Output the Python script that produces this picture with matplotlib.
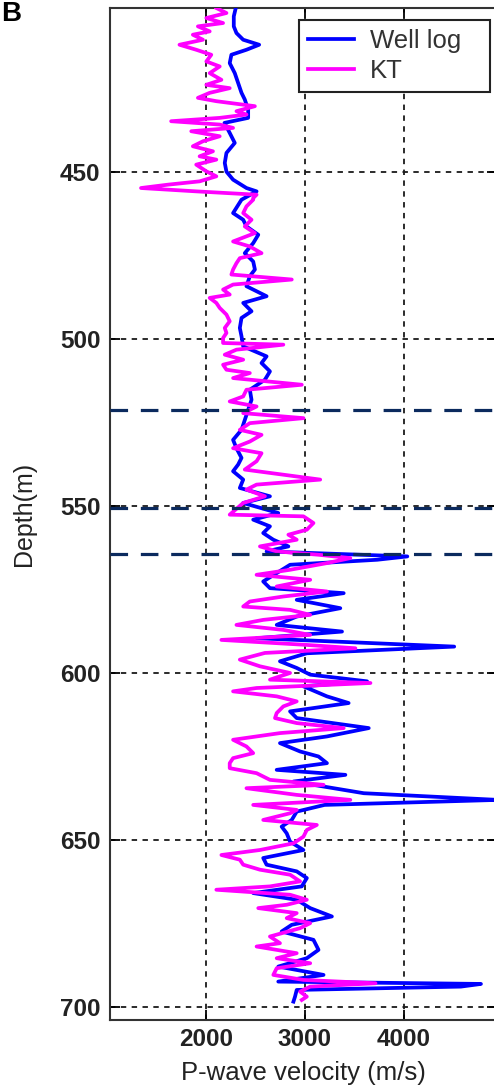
import matplotlib
matplotlib.use('Agg')
import matplotlib.pyplot as plt

plt.rcParams['font.family'] = ['Liberation Sans', 'DejaVu Sans']

# Well log P-wave velocity (m/s) against depth (m)
well_depth = [401.0, 403.5, 406.5, 408.5, 410.5, 412.0, 413.5, 415.0, 417.5, 420.5,
              423.5, 426.4, 428.4, 431.4, 433.9, 435.4, 438.4, 441.4, 444.4, 447.4,
              450.0, 452.4, 454.9, 455.9,
              458.4, 462.4, 464.4, 466.4, 468.9, 471.4, 474.4, 476.9, 479.3, 481.3,
              484.3, 487.3, 489.3, 491.8, 493.8, 496.8, 499.3, 502.3, 505.3, 507.3,
              509.8, 512.3, 515.3,
              518.3, 521.3, 524.3, 527.3, 530.3, 532.8, 535.7, 537.7, 539.7, 542.2,
              544.7, 547.2, 549.2, 552.2, 554.2, 556.2, 558.2, 560.2, 562.2, 563.7,
              565.2, 566.2, 567.7, 570.2, 572.7, 574.7, 576.2,
              578.2, 580.7, 583.2, 585.7, 587.7, 589.7, 592.2, 594.2, 596.6, 598.6,
              600.6, 602.6, 604.1, 607.1, 609.1, 611.6, 613.6, 616.6, 619.1, 621.1,
              623.6, 625.1, 627.1, 629.1, 630.6, 632.6, 634.1, 636.1, 638.1,
              639.6, 641.6, 644.1, 646.1, 648.1, 650.6, 653.1, 655.5, 657.5, 659.5,
              661.5, 664.0, 666.0, 668.0, 670.5, 673.0, 675.5, 677.5, 680.0, 683.0,
              685.5, 688.0, 690.5, 692.5, 693.2, 694.0, 695.0, 697.0, 698.5]
well_vp = [2304, 2284, 2284, 2311, 2379, 2540, 2412, 2260, 2243, 2294,
           2328, 2362, 2395, 2429, 2429, 2190, 2243, 2294, 2210, 2193,
           2210, 2277, 2412, 2514,
           2362, 2277, 2379, 2412, 2531, 2480, 2395, 2480, 2497, 2446,
           2412, 2615, 2379, 2463, 2362, 2345, 2362, 2379, 2615, 2564,
           2649, 2598, 2446,
           2463, 2429, 2395, 2362, 2277, 2311, 2362, 2328, 2277, 2379,
           2345, 2649, 2379, 2733, 2480, 2649, 2581, 2683, 2835, 2615,
           4035, 3731, 2852, 2717, 2581, 2649, 3393,
           2919, 3359, 2919, 2717, 3376, 2514, 4508, 3021, 2750, 2919,
           3055, 3629, 2987, 3224, 3443, 2852, 2919, 3646, 3224, 2750,
           2953, 3139, 3224, 2717, 3410, 2886, 3190, 3596, 4950,
           3200, 2919, 2869, 2767, 2818, 2852, 2987, 2581, 2615, 2919,
           3021, 2970, 2480, 2919, 3055, 3274, 2869, 2767, 3088, 3139,
           3021, 2733, 3190, 2733, 4778, 4575, 2919, 2902, 2886]

# KT estimate
kt_depth = [401.0, 402.5, 404.0, 405.5, 406.5, 408.0, 409.0, 410.5, 412.0, 413.5,
            415.0, 417.0, 418.5, 420.5, 422.5, 424.0, 425.0, 426.4, 427.9, 428.9,
            430.4, 431.9, 432.9, 433.9, 434.9, 435.9, 436.9, 437.9, 439.4, 440.9,
            442.4, 443.9, 445.4, 446.4, 447.9, 449.9, 451.4, 452.9, 453.9, 454.9,
            455.9, 456.9, 457.9,
            458.4, 460.4, 462.4, 464.4, 466.4, 468.4, 470.9, 472.4, 474.4, 475.9,
            477.4, 479.3, 480.8, 482.3, 483.8, 485.3, 486.8, 487.8, 489.3, 490.8,
            492.8, 494.8, 496.8, 498.3, 499.8, 501.3, 501.8, 503.3, 504.8, 506.3,
            507.8, 509.3, 510.3, 511.8, 513.8, 515.3, 517.3, 518.8, 520.3,
            522.3, 523.8, 525.3, 527.3, 528.8, 530.8, 532.8, 534.3, 536.7, 539.2,
            542.2, 543.7, 545.2, 547.2, 549.2, 552.7, 553.2, 555.2, 557.2, 558.7,
            560.2, 562.2, 563.7, 564.7, 565.7, 567.2, 569.2, 570.7, 572.2, 574.2,
            575.7, 577.2, 578.7, 580.2,
            581.2, 582.7, 584.2, 585.7, 587.2, 588.7, 590.2, 591.7, 592.7, 594.1,
            596.1, 598.1, 600.1, 602.1, 603.1, 604.6, 605.6, 607.1, 608.6, 610.1,
            612.1, 613.6, 615.1, 616.6, 618.1, 620.1, 622.1, 624.1, 625.6, 627.1,
            628.6, 630.1, 632.1, 633.6, 634.6, 636.6, 638.1, 639.6, 641.1,
            642.1, 644.1, 645.6, 647.1, 649.1, 651.1, 653.1, 654.6, 656.0, 657.5,
            659.0, 660.5, 662.5, 664.0, 665.0, 666.5, 668.0, 669.5, 670.5, 672.0,
            673.5, 675.0, 676.5, 679.0, 681.0, 682.0, 684.0, 685.5, 687.0, 688.5,
            690.5, 692.0, 693.0, 694.0, 695.5, 697.0, 698.0]
kt_vp = [2108, 2210, 2007, 2176, 1922, 2041, 1871, 1973, 1736, 1905,
         2057, 2007, 2142, 2041, 2159, 2007, 2243, 2041, 1922, 2108,
         2497, 2311, 2412, 2142, 1652, 2142, 2277, 1855, 2142, 1973,
         1871, 2074, 1939, 2108, 1905, 2007, 2108, 1939, 1618, 1348,
         1905, 2514, 2480,
         2480, 2412, 2379, 2463, 2395, 2497, 2277, 2446, 2564, 2345,
         2311, 2277, 2260, 2869, 2277, 2176, 2243, 2041, 2108, 2142,
         2210, 2243, 2193, 2210, 2176, 2176, 2784, 2311, 2193, 2379,
         2176, 2210, 2446, 2277, 2970, 2412, 2379, 2243, 2514,
         2379, 2987, 2446, 2345, 2564, 2446, 2277, 2564, 2514, 2395,
         3156, 2514, 2412, 2598, 2379, 2243, 2987, 3088, 3021, 2835,
         2919, 2548, 2717, 3139, 3460, 3224, 2852, 2514, 3055, 2717,
         3224, 2784, 2446, 2379,
         2852, 3055, 2581, 2311, 2784, 3055, 2159, 3021, 3511, 2598,
         2345, 2548, 2852, 2649, 3663, 2514, 2277, 2717, 2919, 2784,
         2717, 2700, 2919, 3393, 2750, 2277, 2412, 2480, 2277, 2243,
         2243, 2514, 2649, 3190, 2412, 2919, 3460, 2480, 2919,
         2852, 2581, 3122, 3021, 2987, 2886, 2548, 2159, 2345, 2379,
         2548, 2852, 2953, 2649, 2108, 2852, 3021, 2818, 2531, 2919,
         2818, 3055, 2953, 2649, 2750, 2514, 2919, 2717, 3055, 2717,
         2683, 2987, 3714, 3055, 2953, 3021, 2970]

boundary_depths = [521.3, 550.7, 564.5]
x_ticks = [2000, 3000, 4000]
y_ticks = [450, 500, 550, 600, 650, 700]

W, H = 494, 1092
fig = plt.figure(figsize=(W / 100, H / 100), dpi=100)
ax = fig.add_axes([110 / W, 1 - 1020 / H, (497 - 110) / W, (1020 - 8) / H])

ax.plot(well_vp, well_depth, color='#0000ff', lw=2.7, label='Well log', zorder=3)
ax.plot(kt_vp, kt_depth, color='#ff00ff', lw=2.7, label='KT', zorder=4)

for d in boundary_depths:
    ax.axhline(d, color='#0b2a5e', lw=2.3, linestyle=(0, (5.5, 4)), zorder=6)

ax.set_xlim(1035, 4940)
ax.set_ylim(704, 401)
ax.set_xticks(x_ticks)
ax.set_yticks(y_ticks)

ax.grid(True, color='#1a1a1a', linestyle=(0, (3, 3)), linewidth=1.3)
ax.set_axisbelow(True)

ax.tick_params(direction='in', length=7.2, width=1.3, top=True, right=True,
               labelsize=17.5, colors='black')
ax.tick_params(axis='y', pad=7)
ax.tick_params(axis='x', pad=6)
for lab in ax.get_xticklabels() + ax.get_yticklabels():
    lab.set_fontweight('bold')
    lab.set_color('#222222')

for s in ax.spines.values():
    s.set_linewidth(1.5)
    s.set_color('#333333')

ax.set_xlabel('P-wave velocity (m/s)', fontsize=18.5, color='#222222')
ax.set_ylabel('Depth(m)', fontsize=18, color='#222222')
ax.xaxis.set_label_coords(0.5, -0.041)
ax.yaxis.set_label_coords(-0.19, 0.5)

leg = ax.legend(loc='upper left', mode='expand',
                bbox_to_anchor=(299 / W, 1 - 94 / H, 191 / W, 74 / H),
                bbox_transform=fig.transFigure, borderaxespad=0,
                fontsize=18.5, fancybox=False, framealpha=1, edgecolor='#222222',
                handlelength=1.8, handletextpad=0.6, labelspacing=0.22,
                borderpad=0.35)
leg.get_frame().set_linewidth(1.5)
for t in leg.get_texts():
    t.set_color('#333333')

# panel label, pushed into the corner
fig.text(1 / W, 1 - 1 / H, 'B', fontsize=20, fontweight='bold', va='top', ha='left')

fig.savefig('out.png', dpi=100)
